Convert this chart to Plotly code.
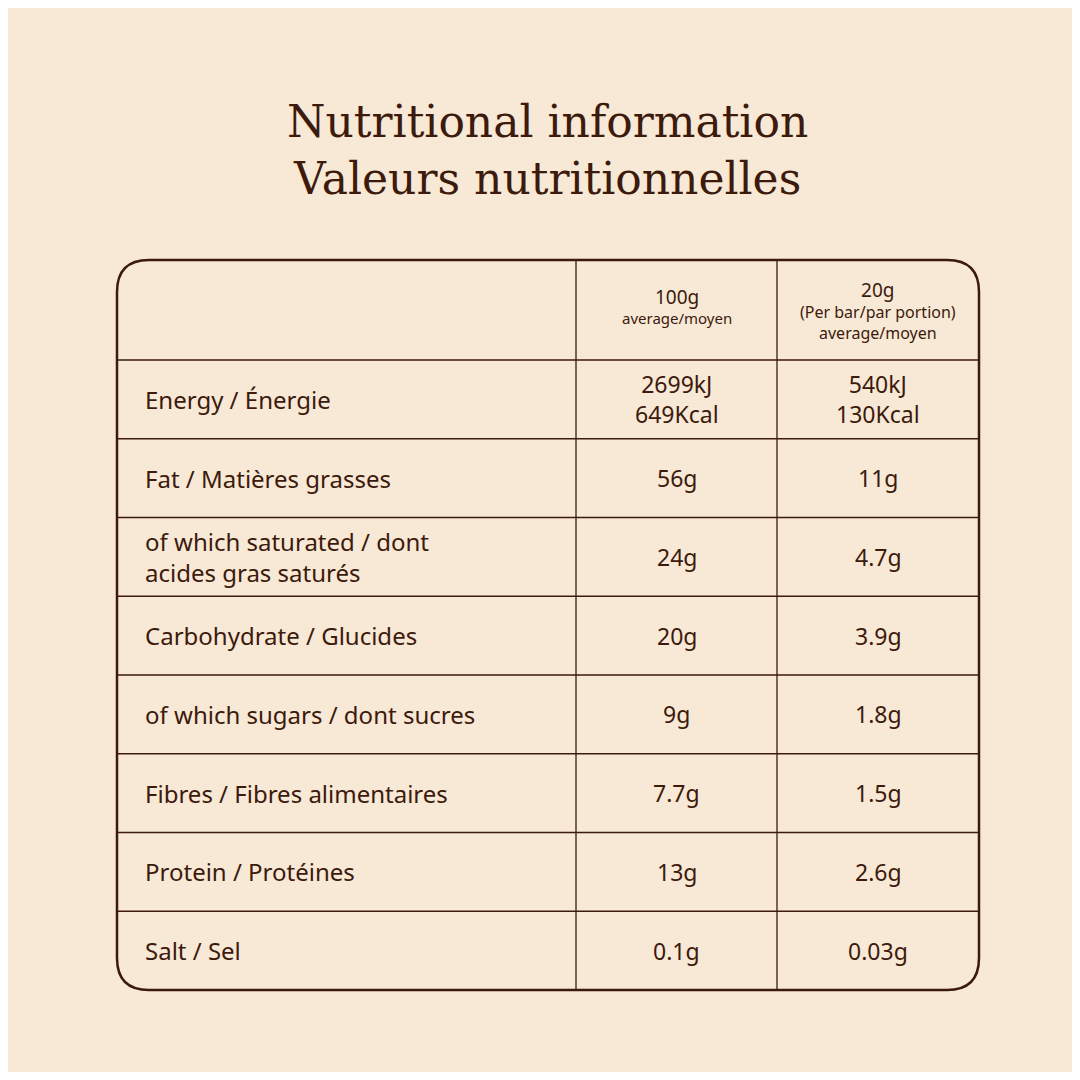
import plotly.graph_objects as go

BG = "#F8E8D6"
INK = "#3C1A0C"

title_lines = ["Nutritional information", "Valeurs nutritionnelles"]
header_100g = ["100g", "average/moyen"]
header_20g = ["20g", "(Per bar/par portion)", "average/moyen"]
row_labels = [
    "Energy / Énergie",
    "Fat / Matières grasses",
    "of which saturated / dont<br>acides gras saturés",
    "Carbohydrate / Glucides",
    "of which sugars / dont sucres",
    "Fibres / Fibres alimentaires",
    "Protein / Protéines",
    "Salt / Sel",
]
values_100g = ["2699kJ<br>649Kcal", "56g", "24g", "20g", "9g", "7.7g", "13g", "0.1g"]
values_20g = ["540kJ<br>130Kcal", "11g", "4.7g", "3.9g", "1.8g", "1.5g", "2.6g", "0.03g"]

# layout in page pixel units (y grows downward); page has an 8px body margin
left, right, top, bottom = 117, 979, 260, 990
col_x = [576, 777]
header_bottom = 360
row_h = (bottom - header_bottom) / len(row_labels)
r = 32
pad = 8

fig = go.Figure()
fig.update_xaxes(range=[pad, 1080 - pad], visible=False)
fig.update_yaxes(range=[1080 - pad, pad], visible=False)

path = (f"M {left + r},{top} L {right - r},{top} Q {right},{top} {right},{top + r} "
        f"L {right},{bottom - r} Q {right},{bottom} {right - r},{bottom} "
        f"L {left + r},{bottom} Q {left},{bottom} {left},{bottom - r} "
        f"L {left},{top + r} Q {left},{top} {left + r},{top} Z")
fig.add_shape(type="path", path=path, line=dict(color=INK, width=2.5))
for cx in col_x:
    fig.add_shape(type="line", x0=cx, x1=cx, y0=top, y1=bottom, line=dict(color=INK, width=1.3))
for i in range(len(row_labels)):
    y = header_bottom + i * row_h
    fig.add_shape(type="line", x0=left, x1=right, y0=y, y1=y, line=dict(color=INK, width=1.3))

body = dict(family="Noto Sans, Lato, sans-serif", color=INK)
fig.add_annotation(x=547, y=150, xref="x", yref="y", showarrow=False,
                   text="<br>".join(title_lines), align="center",
                   font=dict(family="DejaVu Serif, Liberation Serif, serif", size=44, color=INK))

c1 = (col_x[0] + col_x[1]) / 2
c2 = (col_x[1] + right) / 2
fig.add_annotation(x=c1, y=306, showarrow=False, align="center",
                   text=f"<span style='font-size:19px'>{header_100g[0]}</span><br>{header_100g[1]}",
                   font=dict(size=15, **body))
fig.add_annotation(x=c2, y=310, showarrow=False, align="center",
                   text=f"<span style='font-size:19px'>{header_20g[0]}</span><br>{header_20g[1]}<br>{header_20g[2]}",
                   font=dict(size=16, **body))

for i, (lab, a, b) in enumerate(zip(row_labels, values_100g, values_20g)):
    yc = header_bottom + (i + 0.5) * row_h
    fig.add_annotation(x=143, y=yc, xanchor="left", showarrow=False, align="left",
                       text=lab, font=dict(size=24, **body))
    fig.add_annotation(x=c1, y=yc, showarrow=False, align="center", text=a, font=dict(size=23, **body))
    fig.add_annotation(x=c2, y=yc, showarrow=False, align="center", text=b, font=dict(size=23, **body))

fig.update_layout(width=1080 - 2 * pad, height=1080 - 2 * pad, margin=dict(l=0, r=0, t=0, b=0),
                  paper_bgcolor=BG, plot_bgcolor=BG, showlegend=False)
fig.write_html("out.html")
